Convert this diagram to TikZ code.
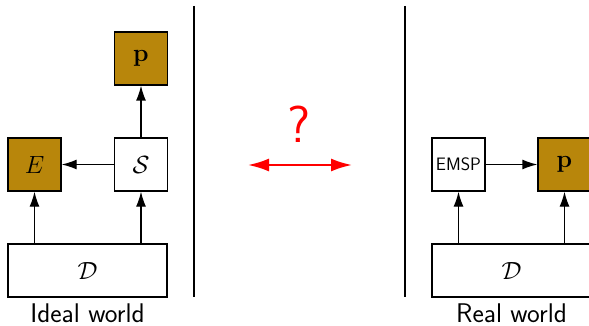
\documentclass[tikz,border=0pt]{standalone}
\usetikzlibrary{arrows.meta}
\definecolor{gold}{HTML}{B8860B}
\begin{document}
\begin{tikzpicture}[x=1pt,y=-1pt,
  box/.style={draw,line width=1.3pt,minimum width=53pt,minimum height=53pt,inner sep=0pt,font=\fontsize{28}{32}\selectfont},
  gbox/.style={box,fill=gold},
  wide/.style={box,minimum width=159pt},
  arr/.style={line width=1.3pt,-{Latex[length=15pt,width=10pt]}},
  lbl/.style={font=\sffamily\fontsize{27}{32}\selectfont,anchor=base,inner sep=0pt}]
\clip (0,0) rectangle (589,326);
\fill[white] (0,0) rectangle (589,326);
% left
\node[gbox] (p1) at (141,58.5) {$\mathbf{p}$};
\node[gbox] (E) at (34.5,164.5) {$E$};
\node[box] (S) at (141,164.5) {$\mathcal{S}$};
\node[wide] (D1) at (87.5,270.5) {$\mathcal{D}$};
\node[lbl] (L1) at (87.5,322) {Ideal world};
\draw[arr] (S) -- (E);
\draw[arr] (S) -- (p1);
\draw[arr] (D1.north -| E) -- (E);
\draw[arr] (D1.north -| S) -- (S);
% dividers
\coordinate (v1a) at (194,6); \coordinate (v1b) at (194,297);
\coordinate (v2a) at (405,6); \coordinate (v2b) at (405,297);
\draw[line width=1.3pt] (v1a) -- (v1b);
\draw[line width=1.3pt] (v2a) -- (v2b);
% middle
\node[text=red,font=\sffamily\fontsize{52}{60}\selectfont] (q) at (299,124) {?};
\coordinate (ra) at (248,165); \coordinate (rb) at (352,165);
\draw[red,line width=2.2pt,{Latex[length=21pt,width=13pt]}-{Latex[length=21pt,width=13pt]}] (ra) -- (rb);
% right
\node[box,font=\sffamily\fontsize{18}{22}\selectfont] (M) at (458.5,164.5) {EMSP};
\node[gbox] (p2) at (564.5,164.5) {$\mathbf{p}$};
\node[wide] (D2) at (511.5,270.5) {$\mathcal{D}$};
\node[lbl] (L2) at (511.5,322) {Real world};
\draw[arr] (M) -- (p2);
\draw[arr] (D2.north -| M) -- (M);
\draw[arr] (D2.north -| p2) -- (p2);
\end{tikzpicture}
\end{document}
